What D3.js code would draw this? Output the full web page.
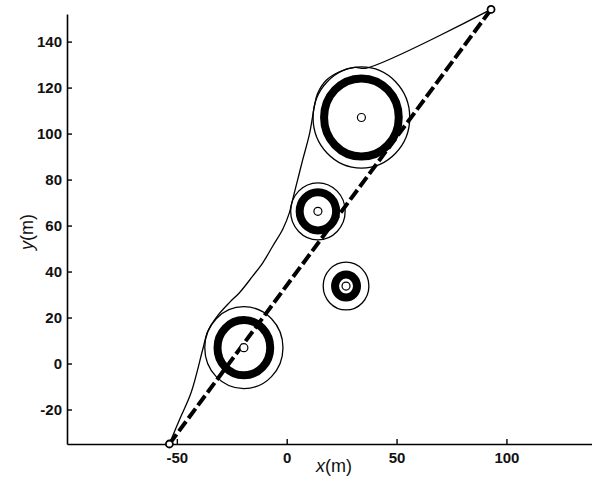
<!DOCTYPE html>
<html>
    <head>
        <meta charset="utf-8">
        <title>Path planning</title>
        <style>
            body { margin: 0; background: #fff; }
            text { font-family: "Liberation Sans", Arial, sans-serif; }
        </style>
    </head>
    <body>

        <script type="text/javascript" src="https://d3js.org/d3.v7.min.js"></script>
        <script type="text/javascript">
            // obstacles: centre, obstacle radius, safety radius
            var obsX = [-19.5, 34, 14.2, 27];
            var obsY = [6.9, 107, 66.2, 33.7];
            var obsR = [12, 17, 8.3, 5];
            var safeR = [17.8, 22, 12.4, 10.4];

            var startPt = [-53.4, -35];
            var endPt = [93, 154];

            // planned path
            var pathX = [-53.4, -48.8, -43.5, -38.2, -36.1, -32.1, -26.1, -21.5, -15.5, -10.9, -6.4, -1.8, 1.2, 2.7, 5.0, 7.3, 10.3, 12.6, 14.0, 18.1, 24.0, 30.8, 36.3, 93];
            var pathY = [-35, -24.4, -12.6, 6.2, 13.6, 20.0, 26.5, 30.8, 38.0, 43.8, 51.0, 58.4, 65.5, 71.3, 80.0, 88.7, 99.5, 111.8, 117.3, 123.3, 126.9, 128.8, 128.5, 154];

            var xTicks = [-50, 0, 50, 100];
            var yTicks = [-20, 0, 20, 40, 60, 80, 100, 120, 140];

            var width = 592, height = 485;

            var x = d3.scaleLinear()
                .domain([-100, 140])
                .range([67, 594.3]);

            var y = d3.scaleLinear()
                .domain([-35, 152])
                .range([444, 14]);

            var svg = d3.select('body')
                .append('svg')
                .attr('width', width)
                .attr('height', height);

            svg.append('rect')
                .attr('width', width)
                .attr('height', height)
                .attr('fill', '#fff');

            // axes, ticks pointing in
            var xAxis = d3.axisBottom(x)
                .tickValues(xTicks)
                .tickSizeInner(-5)
                .tickSizeOuter(0)
                .tickPadding(8)
                .tickFormat(function(d){ return String(d); });

            var yAxis = d3.axisLeft(y)
                .tickValues(yTicks)
                .tickSizeInner(-5)
                .tickSizeOuter(0)
                .tickPadding(5)
                .tickFormat(function(d){ return String(d); });

            var gx = svg.append('g')
                .attr('transform', 'translate(0,' + y(-35) + ')')
                .call(xAxis);

            var gy = svg.append('g')
                .attr('transform', 'translate(' + x(-100) + ',0)')
                .call(yAxis);

            [gx, gy].forEach(function(g){
                g.select('.domain').attr('stroke', '#000').attr('stroke-width', 1.6);
                g.selectAll('.tick line').attr('stroke', '#000').attr('stroke-width', 1.4);
                g.selectAll('.tick text')
                    .attr('fill', '#111')
                    .style('font-family', '"Liberation Sans", Arial, sans-serif')
                    .style('font-size', '15px')
                    .style('font-weight', 'bold');
            });

            // straight line start -> goal
            svg.append('line')
                .attr('x1', x(startPt[0]))
                .attr('y1', y(startPt[1]))
                .attr('x2', x(endPt[0]))
                .attr('y2', y(endPt[1]))
                .attr('stroke', '#000')
                .attr('stroke-width', 4)
                .attr('stroke-dasharray', '12,4');

            var obs = obsX.map(function(d, i){
                return {x: d, y: obsY[i], r: obsR[i], s: safeR[i]};
            });

            // safety circles
            svg.selectAll('ellipse.safe')
                .data(obs)
                .enter()
                .append('ellipse')
                .attr('class', 'safe')
                .attr('cx', function(d){ return x(d.x); })
                .attr('cy', function(d){ return y(d.y); })
                .attr('rx', function(d){ return x(d.s) - x(0); })
                .attr('ry', function(d){ return y(0) - y(d.s); })
                .attr('fill', 'none')
                .attr('stroke', '#000')
                .attr('stroke-width', 1.3);

            // obstacle rings
            svg.selectAll('ellipse.obs')
                .data(obs)
                .enter()
                .append('ellipse')
                .attr('class', 'obs')
                .attr('cx', function(d){ return x(d.x); })
                .attr('cy', function(d){ return y(d.y); })
                .attr('rx', function(d){ return x(d.r) - x(0); })
                .attr('ry', function(d){ return y(0) - y(d.r); })
                .attr('fill', 'none')
                .attr('stroke', '#000')
                .attr('stroke-width', 8);

            // centre markers
            svg.selectAll('circle.ctr')
                .data(obs)
                .enter()
                .append('circle')
                .attr('class', 'ctr')
                .attr('cx', function(d){ return x(d.x); })
                .attr('cy', function(d){ return y(d.y); })
                .attr('r', 4)
                .attr('fill', '#fff')
                .attr('stroke', '#000')
                .attr('stroke-width', 1.2);

            // planned path
            var pts = pathX.map(function(d, i){ return [d, pathY[i]]; });
            var line = d3.line()
                .x(function(d){ return x(d[0]); })
                .y(function(d){ return y(d[1]); })
                .curve(d3.curveCatmullRom);

            svg.append('path')
                .attr('d', line(pts))
                .attr('fill', 'none')
                .attr('stroke', '#000')
                .attr('stroke-width', 1.3);

            // start and goal
            svg.selectAll('circle.end')
                .data([startPt, endPt])
                .enter()
                .append('circle')
                .attr('class', 'end')
                .attr('cx', function(d){ return x(d[0]); })
                .attr('cy', function(d){ return y(d[1]); })
                .attr('r', 3.5)
                .attr('fill', '#fff')
                .attr('stroke', '#000')
                .attr('stroke-width', 1.8);

            // axis labels
            var xl = svg.append('text')
                .attr('x', 334)
                .attr('y', 472)
                .attr('text-anchor', 'middle')
                .style('font-size', '18px')
                .attr('fill', '#111');
            xl.append('tspan').style('font-style', 'italic').text('x');
            xl.append('tspan').text('(m)');

            var yl = svg.append('text')
                .attr('transform', 'translate(33,232) rotate(-90)')
                .attr('text-anchor', 'middle')
                .style('font-size', '18px')
                .attr('fill', '#111');
            yl.append('tspan').style('font-style', 'italic').text('y');
            yl.append('tspan').text('(m)');
        </script>

    </body>
</html>
